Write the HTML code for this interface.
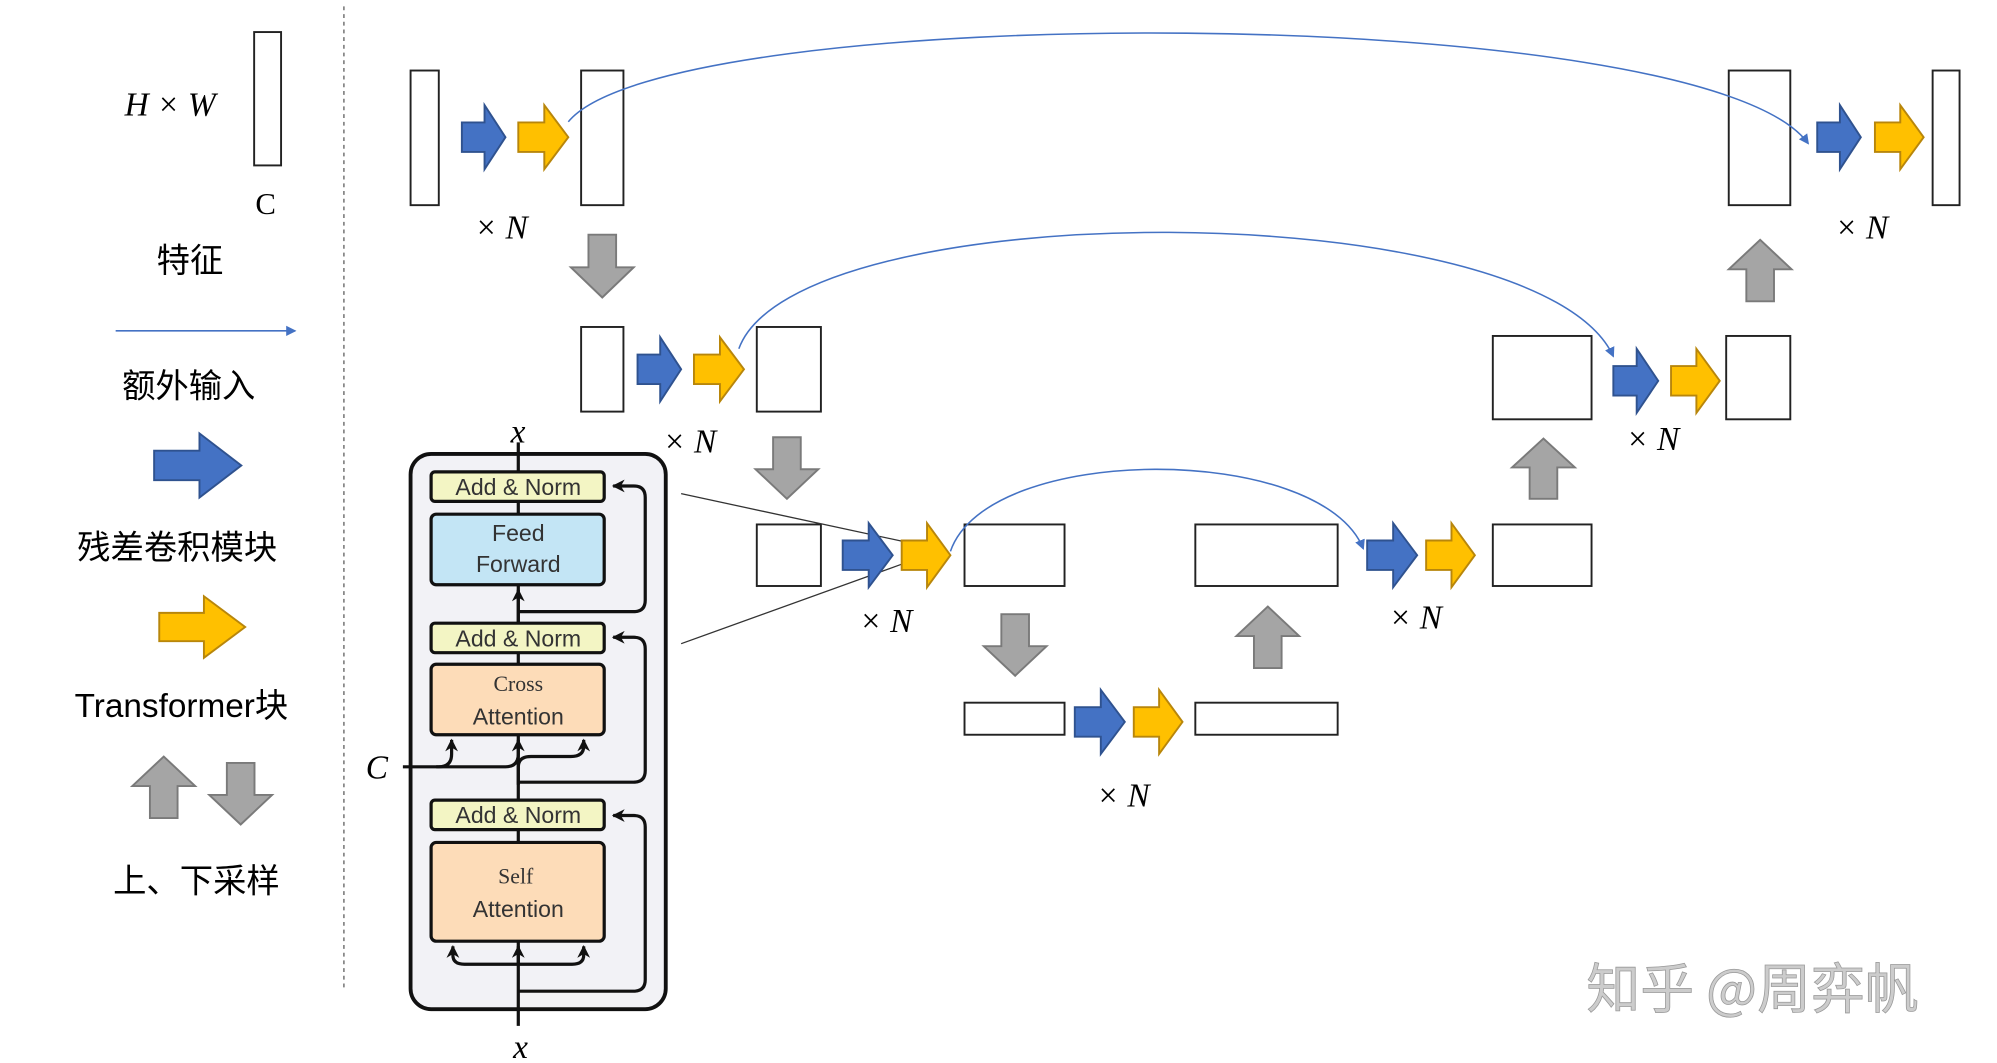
<!DOCTYPE html>
<html><head><meta charset="utf-8">
<style>
html,body{margin:0;padding:0;background:#fff;}
svg{display:block;}
text{font-family:"Liberation Sans","Noto Sans CJK SC",sans-serif;}
text.it{font-family:"Liberation Serif","DejaVu Serif",serif;font-style:italic;}
text.cj{font-family:"Noto Sans CJK SC","WenQuanYi Zen Hei",sans-serif;}
text.sf{font-family:"Liberation Serif","DejaVu Serif",serif;}
tspan.cj{font-family:"Noto Sans CJK SC","WenQuanYi Zen Hei",sans-serif;}
</style></head>
<body>
<svg id="s" width="1997" height="1063" viewBox="0 0 1557 829" xmlns="http://www.w3.org/2000/svg">
<defs>
<marker id="ab" markerWidth="8" markerHeight="8" refX="7" refY="4" orient="auto" markerUnits="userSpaceOnUse"><path d="M0,0 L8,4 L0,8 Z" fill="#4472c4"/></marker>
<marker id="ak" markerWidth="10" markerHeight="10" refX="9" refY="5" orient="auto" markerUnits="userSpaceOnUse"><path d="M0,0 L10,5 L0,10 L3,5 Z" fill="#111"/></marker>
</defs>
<rect width="1557" height="829" fill="#fff"/>
<line x1="268" y1="5" x2="268" y2="770" stroke="#777" stroke-width="1.2" stroke-dasharray="3,3"/>

<!-- legend -->
<text x="97" y="90" class="it" font-size="26">H × W</text>
<rect x="198" y="25" width="21" height="104" fill="#fff" stroke="#222" stroke-width="1.5"/>
<text x="199" y="167" font-size="24" class="sf">C</text>
<text x="122" y="212" class="cj" font-size="26">特征</text>
<line x1="90" y1="258" x2="230" y2="258" stroke="#4472c4" stroke-width="1.3" marker-end="url(#ab)"/>
<text x="95" y="310" class="cj" font-size="26">额外输入</text>
<text x="60" y="436" class="cj" font-size="26">残差卷积模块</text>
<text x="58" y="559" font-size="26">Transformer<tspan class="cj">块</tspan></text>
<text x="88" y="696" class="cj" font-size="26">上、下采样</text>

<!-- feature rects -->
<g fill="#fff" stroke="#222" stroke-width="1.5">
<rect x="320" y="55" width="22" height="105"/>
<rect x="453" y="55" width="33" height="105"/>
<rect x="453" y="255" width="33" height="66"/>
<rect x="590" y="255" width="50" height="66"/>
<rect x="590" y="409" width="50" height="48"/>
<rect x="752" y="409" width="78" height="48"/>
<rect x="752" y="548" width="78" height="25"/>
<rect x="932" y="548" width="111" height="25"/>
<rect x="932" y="409" width="111" height="48"/>
<rect x="1164" y="409" width="77" height="48"/>
<rect x="1164" y="262" width="77" height="65"/>
<rect x="1346" y="262" width="50" height="65"/>
<rect x="1348" y="55" width="48" height="105"/>
<rect x="1507" y="55" width="21" height="105"/>
</g>

<!-- xN labels -->
<g font-size="26">
<text class="it" x="370" y="186">× N</text>
<text class="it" x="517" y="353">× N</text>
<text class="it" x="670" y="493">× N</text>
<text class="it" x="855" y="629">× N</text>
<text class="it" x="1083" y="490">× N</text>
<text class="it" x="1268" y="351">× N</text>
<text class="it" x="1431" y="186">× N</text>
</g>

<!-- skip curves -->
<g fill="none" stroke="#4472c4" stroke-width="1.2">
<path d="M443,95 C520,0 1330,0 1410,112" marker-end="url(#ab)"/>
<path d="M576,272 C620,150 1200,150 1258,278" marker-end="url(#ab)"/>
<path d="M741,430 C770,345 1030,345 1063,428" marker-end="url(#ab)"/>
</g>
<line x1="531" y1="385" x2="703" y2="422" stroke="#333" stroke-width="1"/>
<line x1="531" y1="502" x2="703" y2="440" stroke="#333" stroke-width="1"/>

<g id="arrows"></g>

<!-- transformer block -->
<rect x="320" y="354" width="199" height="433" rx="16" fill="#f2f2f6" stroke="#111" stroke-width="3"/>
<g fill="none" stroke="#111" stroke-width="2.5">
<line x1="404" y1="800" x2="404" y2="345"/>
<path d="M404,773 H494 Q503,773 503,764 V645 Q503,636 494,636 H478" marker-end="url(#ak)"/>
<path d="M404,610 H494 Q503,610 503,601 V506 Q503,497 494,497 H478" marker-end="url(#ak)"/>
<path d="M404,477 H494 Q503,477 503,468 V388 Q503,379 494,379 H478" marker-end="url(#ak)"/>
<path d="M404,752 H362 Q353,752 353,745 V738" marker-end="url(#ak)"/>
<path d="M404,752 H446 Q455,752 455,745 V738" marker-end="url(#ak)"/>
<line x1="404" y1="752" x2="404" y2="738" marker-end="url(#ak)"/>
<path d="M314,598 H342 Q352,598 352,588 V577" marker-end="url(#ak)"/>
<path d="M340,598 H394 Q404,598 404,588 V577" marker-end="url(#ak)"/>
<path d="M404,612 V598 Q404,590 414,590 H445 Q455,590 455,582 V577" marker-end="url(#ak)"/>
<line x1="404" y1="486" x2="404" y2="460" marker-end="url(#ak)"/>
</g>
<g stroke="#111" stroke-width="2.5">
<rect x="336" y="368" width="135" height="23" rx="3" fill="#f3f5c4"/>
<rect x="336" y="401" width="135" height="55" rx="4" fill="#c3e5f5"/>
<rect x="336" y="486" width="135" height="23" rx="3" fill="#f3f5c4"/>
<rect x="336" y="518" width="135" height="55" rx="4" fill="#fddcb8"/>
<rect x="336" y="624" width="135" height="23" rx="3" fill="#f3f5c4"/>
<rect x="336" y="657" width="135" height="77" rx="4" fill="#fddcb8"/>
</g>
<g font-size="18" fill="#333" text-anchor="middle">
<text x="404" y="386">Add &amp; Norm</text>
<text x="404" y="422">Feed</text>
<text x="404" y="446">Forward</text>
<text x="404" y="504">Add &amp; Norm</text>
<text x="404" y="539" class="sf" font-size="17">Cross</text>
<text x="404" y="565">Attention</text>
<text x="404" y="642">Add &amp; Norm</text>
<text x="402" y="689" class="sf" font-size="17">Self</text>
<text x="404" y="715">Attention</text>
</g>
<text x="398" y="345" class="it" font-size="26">x</text>
<text x="400" y="825" class="it" font-size="26">x</text>
<text x="285" y="607" class="it" font-size="26">C</text>

<text x="1237" y="786" class="cj" font-size="42" fill="#ccc" stroke="#999" stroke-width="0.6">知乎 @周弈帆</text>
</svg>
<script>
var g=document.getElementById('arrows');
function P(pts,fill,stroke){var p=document.createElementNS('http://www.w3.org/2000/svg','polygon');p.setAttribute('points',pts.map(function(a){return a.join(',')}).join(' '));p.setAttribute('fill',fill);p.setAttribute('stroke',stroke);p.setAttribute('stroke-width','1.5');p.setAttribute('stroke-linejoin','miter');g.appendChild(p);}
function R(x0,x1,y0,y1,f,s){var w=x1-x0,h=y1-y0,a=y0+h*0.27,b=y1-h*0.27,hx=x0+w*0.52,m=(y0+y1)/2;P([[x0,a],[hx,a],[hx,y0],[x1,m],[hx,y1],[hx,b],[x0,b]],f,s);}
function V(x0,x1,y0,y1,up){var w=x1-x0,h=y1-y0,a=x0+w*0.28,b=x1-w*0.28,m=(x0+x1)/2,f='#a5a5a5',s='#7a7a7a';
if(up){var hy=y0+h*0.48;P([[m,y0],[x1,hy],[b,hy],[b,y1],[a,y1],[a,hy],[x0,hy]],f,s);}
else{var hy=y1-h*0.48;P([[a,y0],[b,y0],[b,hy],[x1,hy],[m,y1],[x0,hy],[a,hy]],f,s);}}
var B='#4472c4',BS='#2f528f',Y='#ffc000',YS='#b8860b';
R(120,188,338,388,B,BS);R(124,191,465,513,Y,YS);
V(103,152,590,638,true);V(163,212,595,643,false);
R(360,394,82,132,B,BS);R(404,443,82,132,Y,YS);
V(445,494,183,232,false);
R(497,531,263,313,B,BS);R(541,580,263,313,Y,YS);
V(589,638,341,389,false);
R(657,696,408,458,B,BS);R(703,741,408,458,Y,YS);
V(767,816,479,527,false);
R(838,877,538,588,B,BS);R(884,922,538,588,Y,YS);
V(964,1013,473,521,true);
R(1066,1105,408,458,B,BS);R(1112,1150,408,458,Y,YS);
V(1179,1228,342,389,true);
R(1258,1293,272,322,B,BS);R(1303,1341,272,322,Y,YS);
V(1348,1397,187,235,true);
R(1417,1451,82,132,B,BS);R(1462,1500,82,132,Y,YS);
</script>
</body></html>
